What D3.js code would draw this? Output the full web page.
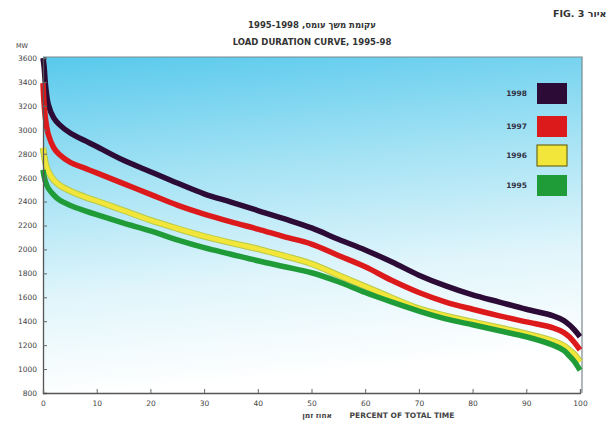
<!DOCTYPE html>
<html>
<head>
<meta charset="utf-8">
<script src="https://cdn.jsdelivr.net/npm/d3@7"></script>
<style>
  html, body { margin: 0; padding: 0; background: #fff; }
  svg { display: block; }
  text { font-family: "DejaVu Sans", "Noto Sans", sans-serif; }
</style>
</head>
<body>
<svg id="chart" width="616" height="425"></svg>
<script>
// Load duration curves: percent of time vs. load (MW)
const pct = [0, 0.2, 0.5, 1, 2, 3, 5, 8, 10, 15, 20, 25, 30, 35, 40, 45, 50, 55, 60, 65, 70, 75, 80, 85, 90, 95, 97, 98, 99, 100];

const load1998 = [3600, 3530, 3360, 3210, 3100, 3045, 2975, 2905, 2860, 2745, 2650, 2555, 2465, 2395, 2325, 2255, 2180, 2085, 1995, 1895, 1785, 1695, 1620, 1560, 1500, 1445, 1405, 1370, 1325, 1270];
const load1997 = [3390, 3220, 3080, 2960, 2850, 2795, 2730, 2675, 2640, 2550, 2460, 2370, 2295, 2230, 2170, 2105, 2045, 1950, 1855, 1740, 1640, 1560, 1500, 1445, 1395, 1345, 1305, 1270, 1220, 1160];
const load1996 = [2850, 2790, 2715, 2650, 2580, 2540, 2490, 2435, 2405, 2325, 2245, 2175, 2110, 2055, 2005, 1945, 1880, 1785, 1690, 1595, 1505, 1445, 1395, 1345, 1295, 1235, 1195, 1160, 1120, 1060];
const load1995 = [2665, 2610, 2560, 2510, 2455, 2415, 2370, 2320, 2290, 2220, 2155, 2080, 2015, 1960, 1905, 1855, 1805, 1730, 1640, 1560, 1485, 1420, 1370, 1320, 1270, 1200, 1155, 1110, 1060, 990];

const years = ["1998", "1997", "1996", "1995"];
const yearColors = ["#2c0b36", "#dc1a1c", "#f2e63a", "#1f9c38"];
const seriesLoads = [load1998, load1997, load1996, load1995];

const xTicks = [0, 10, 20, 30, 40, 50, 60, 70, 80, 90, 100];
const yTicks = [800, 1000, 1200, 1400, 1600, 1800, 2000, 2200, 2400, 2600, 2800, 3000, 3200, 3400, 3600];

const svg = d3.select("#chart");
const plotL = 43, plotR = 582, plotT = 57, plotB = 393;

const x = d3.scaleLinear().domain([0, 100]).range([plotL, plotR - 2]);
const y = d3.scaleLinear().domain([800, 3600]).range([plotB, plotT + 1]);

// Plot background: cyan fading to white toward the bottom
const defs = svg.append("defs");
const grad = defs.append("linearGradient")
  .attr("id", "bg").attr("x1", 0).attr("y1", 0).attr("x2", 0.15).attr("y2", 1);
grad.append("stop").attr("offset", "0%").attr("stop-color", "#58c9ec");
grad.append("stop").attr("offset", "35%").attr("stop-color", "#a0e1f4");
grad.append("stop").attr("offset", "70%").attr("stop-color", "#e0f5fb");
grad.append("stop").attr("offset", "100%").attr("stop-color", "#ffffff");

svg.append("rect")
  .attr("x", plotL).attr("y", plotT)
  .attr("width", plotR - plotL).attr("height", plotB - plotT)
  .attr("fill", "url(#bg)");

// Frame top and right
svg.append("path")
  .attr("d", `M${plotL},${plotT}H${plotR}V${plotB}`)
  .attr("fill", "none").attr("stroke", "#7a8a90").attr("stroke-width", 1.2);

// Curves
const line = d3.line()
  .x((d, i) => x(pct[i]))
  .y(d => y(d))
  .curve(d3.curveCatmullRom.alpha(0.5));

seriesLoads.forEach((vals, k) => {
  if (years[k] === "1996") {
    svg.append("path").attr("d", line(vals))
      .attr("fill", "none").attr("stroke", "#b7c94a").attr("stroke-width", 6.5)
      .attr("stroke-linejoin", "round");
  }
  svg.append("path").attr("d", line(vals))
    .attr("fill", "none").attr("stroke", yearColors[k])
    .attr("stroke-width", years[k] === "1996" ? 4.5 : 5.5)
    .attr("stroke-linejoin", "round");
});

// Axes
const yAxis = d3.axisLeft(y).tickValues(yTicks).tickSize(-4).tickPadding(6).tickFormat(d3.format("d"));
const gy = svg.append("g").attr("transform", `translate(${plotL},0)`).call(yAxis);
gy.select(".domain").attr("stroke", "#555").attr("stroke-width", 1.3);
gy.selectAll(".tick line").attr("stroke", "#666");
gy.selectAll("text").attr("font-size", 7.5).attr("fill", "#444");

const xAxis = d3.axisBottom(x).tickValues(xTicks).tickSize(-4).tickPadding(8).tickFormat(d3.format("d"));
const gx = svg.append("g").attr("transform", `translate(0,${plotB})`).call(xAxis);
gx.select(".domain").attr("stroke", "#555").attr("stroke-width", 1.3);
gx.selectAll(".tick line").attr("stroke", "#666");
gx.selectAll("text").attr("font-size", 7.5).attr("fill", "#444");

// Legend
const legend = svg.append("g");
years.forEach((yr, k) => {
  const yy = [83, 116, 145, 175][k];
  legend.append("rect")
    .attr("x", 537).attr("y", yy).attr("width", 30).attr("height", 21)
    .attr("fill", yearColors[k])
    .attr("stroke", yr === "1996" ? "#6d6a1a" : "none").attr("stroke-width", 1.2);
  legend.append("text")
    .attr("x", 527).attr("y", yy + 13)
    .attr("text-anchor", "end").attr("font-size", 7.5).attr("font-weight", "bold")
    .attr("fill", "#334").text(yr);
});

// Titles
svg.append("text").attr("x", 312).attr("y", 28).attr("text-anchor", "middle")
  .attr("font-size", 8.5).attr("font-weight", "bold").attr("fill", "#333")
  .text("עקומת משך עומס, 1995-1998");
svg.append("text").attr("x", 312).attr("y", 45).attr("text-anchor", "middle")
  .attr("font-size", 8.5).attr("font-weight", "bold").attr("fill", "#333")
  .text("LOAD DURATION CURVE, 1995-98");

svg.append("text").attr("x", 553).attr("y", 17).attr("text-anchor", "start")
  .attr("font-size", 9.5).attr("font-weight", "bold").attr("fill", "#333")
  .text("FIG. 3  איור");

svg.append("text").attr("x", 22).attr("y", 48).attr("text-anchor", "middle")
  .attr("font-size", 6.5).attr("fill", "#444").text("MW");

svg.append("text").attr("x", 332).attr("y", 418)
  .attr("text-anchor", "end").attr("font-size", 7.5).attr("font-weight", "bold").attr("fill", "#444")
  .text("אחוז זמן");
svg.append("text").attr("x", 402).attr("y", 418)
  .attr("text-anchor", "middle").attr("font-size", 7.5).attr("font-weight", "bold").attr("fill", "#444")
  .text("PERCENT OF TOTAL TIME");
</script>
</body>
</html>
